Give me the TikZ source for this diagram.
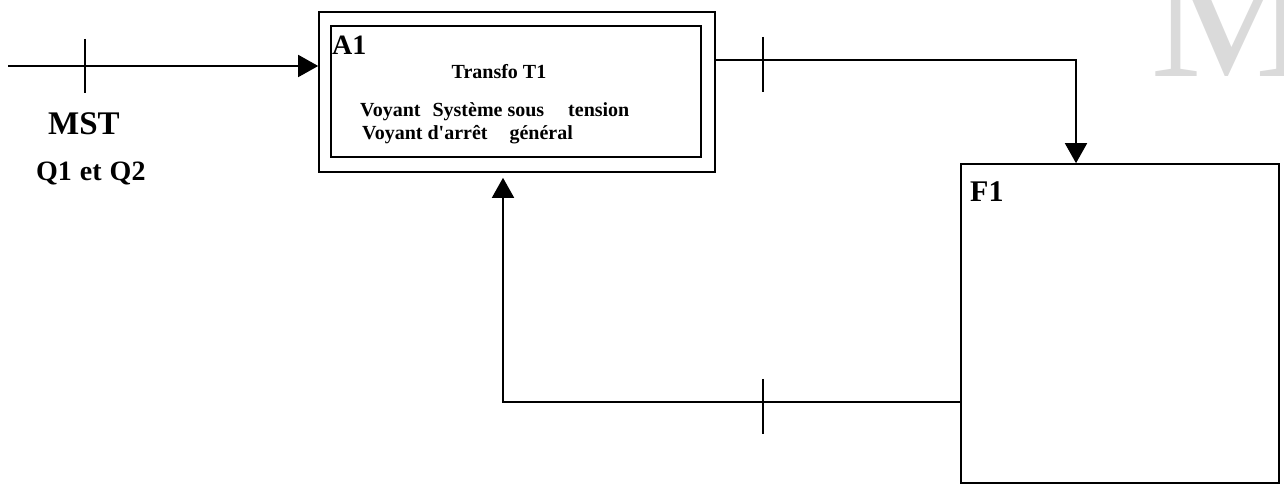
\documentclass[tikz,border=0pt]{standalone}
\usepackage{fontspec}
\setmainfont{Liberation Serif}
\usepackage{tikz}
\usetikzlibrary{arrows.meta,positioning,calc}
\definecolor{markgray}{RGB}{218,218,218}

\begin{document}
\begin{tikzpicture}[
    x=1pt, y=1pt,
    box/.style={rectangle, draw, line width=1.6pt, inner sep=0pt},
    lbl/.style={inner sep=0pt, font=\bfseries},
    flow/.style={line width=1.6pt, -{Triangle[length=20pt,width=22pt]}},
    link/.style={line width=1.6pt},
    tick/.style={line width=1.6pt}
]
    \useasboundingbox (0,0) rectangle (1284,484);

    % Watermark
    \node[anchor=base west, inner sep=0pt, text=markgray, font=\fontsize{185}{185}\selectfont] (mark) at (1150,407) {M};

    % Activity A1
    \node[box, minimum width=396pt, minimum height=160pt] (A1) at (517,392) {};
    \node[box, minimum width=370pt, minimum height=131pt] (A1in) at (516,392.5) {};
    \node[lbl, anchor=base west, font=\bfseries\fontsize{28}{28}\selectfont] (A1name) at (332,429) {A1};
    \node[lbl, anchor=base, font=\bfseries\fontsize{20}{20}\selectfont] (transfo) at (499,405) {Transfo T1};
    \node[lbl, anchor=base west, font=\bfseries\fontsize{20}{20}\selectfont] (voy1) at (360,367) {Voyant\hspace{12pt}Système sous\hspace{24pt}tension};
    \node[lbl, anchor=base west, font=\bfseries\fontsize{20}{20}\selectfont] (voy2) at (362,344) {Voyant d\textquotesingle arrêt\hspace{22pt}général};

    % Activity F1
    \node[box, minimum width=318pt, minimum height=319pt] (F1) at (1120,160.5) {};
    \node[lbl, anchor=base west, font=\bfseries\fontsize{30}{30}\selectfont] (F1name) at (970,282) {F1};

    % Input
    \coordinate (in) at (8,418);
    \node[lbl, anchor=base west, font=\bfseries\fontsize{33}{33}\selectfont] (mst) at (48,349) {MST};
    \node[lbl, anchor=base west, font=\bfseries\fontsize{28}{28}\selectfont] (q) at (36,303) {Q1\hspace{8pt}et\hspace{8pt}Q2};

    \draw[flow] (in) -- (in -| A1.west);
    \draw[tick] (85,445) -- (85,391);

    % A1 -> F1
    \draw[flow] (A1.east |- 0,424) -| (F1.north -| 1076,0);
    \draw[tick] (763,447) -- (763,392);

    % F1 -> A1 (feedback)
    \draw[flow, shorten >=5pt] (F1.west |- 0,82) -| (A1.south -| 503,0);
    \draw[tick] (763,105) -- (763,50);
\end{tikzpicture}
\end{document}
